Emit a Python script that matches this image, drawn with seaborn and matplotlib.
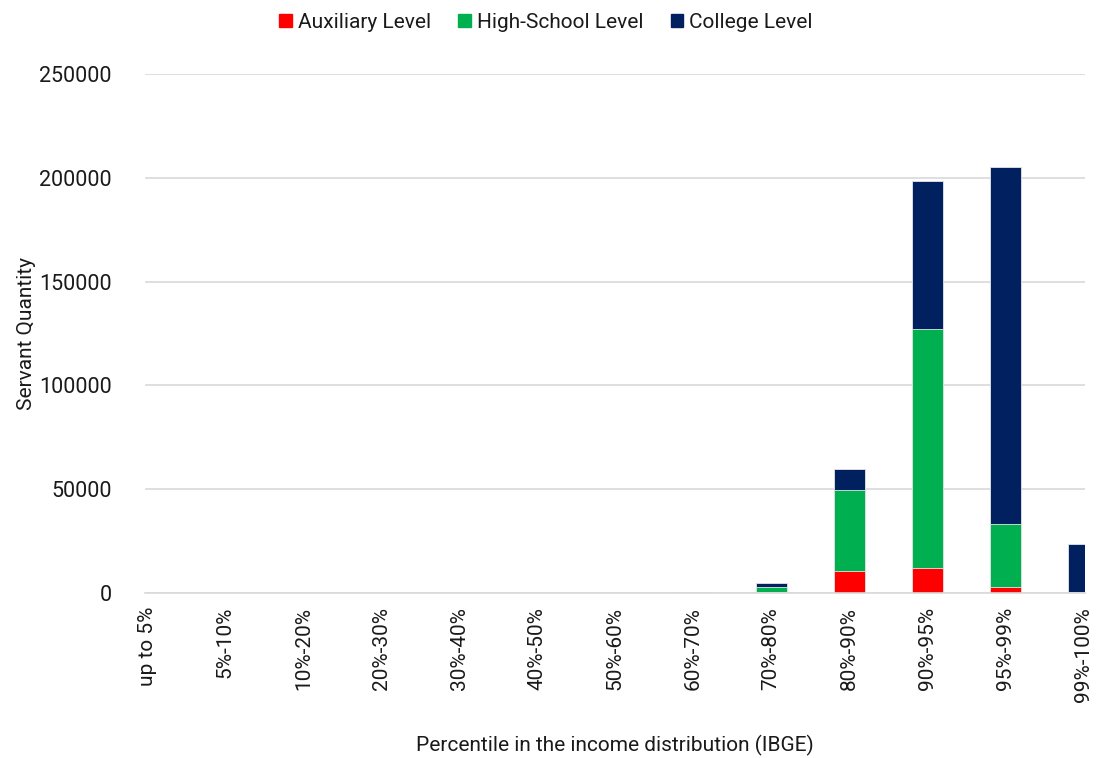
import numpy as np
import pandas as pd
import seaborn as sns
import matplotlib.pyplot as plt
from matplotlib.patches import Patch

sns.set_theme(style='white')
plt.rcParams['font.family'] = ['Liberation Sans Narrow', 'Roboto', 'DejaVu Sans']

percentiles = ['up to 5%', '5%-10%', '10%-20%', '20%-30%', '30%-40%', '40%-50%',
               '50%-60%', '60%-70%', '70%-80%', '80%-90%', '90%-95%', '95%-99%', '99%-100%']
auxiliary = [0, 0, 0, 0, 0, 0, 0, 100, 300, 10700, 12200, 2900, 0]
high_school = [0, 0, 0, 0, 0, 0, 0, 200, 2600, 38900, 115000, 30200, 300]
college = [0, 0, 0, 0, 0, 0, 0, 100, 1800, 10100, 71300, 172100, 23500]

colors = {'Auxiliary Level': '#FF0000', 'High-School Level': '#00B050', 'College Level': '#002060'}

df = pd.DataFrame({'pct': percentiles, 'aux': auxiliary, 'hs': high_school, 'col': college})
# cumulative tops so the stacks can be drawn back to front
df['top_col'] = df['aux'] + df['hs'] + df['col']
df['top_hs'] = df['aux'] + df['hs']
df['top_aux'] = df['aux']

fig = plt.figure(figsize=(10.99, 7.58), dpi=100)
ax = fig.add_axes([0.132, 0.2177, 0.855, 0.6847])

for col, name in [('top_col', 'College Level'), ('top_hs', 'High-School Level'), ('top_aux', 'Auxiliary Level')]:
    sns.barplot(data=df, x='pct', y=col, color=colors[name], width=0.4,
                edgecolor='#E6E6E6', linewidth=0.6, saturation=1, ax=ax)

ax.set_xlim(-0.03, 12.02)
ax.set_ylim(0, 250000)
ax.set_yticks(np.arange(0, 250001, 50000))
ax.yaxis.grid(True, color='#D9D9D9', linewidth=1.2)
ax.set_axisbelow(True)
for s in ['top', 'right', 'left']:
    ax.spines[s].set_visible(False)
ax.spines['bottom'].set_color('#D9D9D9')
ax.spines['bottom'].set_linewidth(1.2)
ax.tick_params(axis='y', labelsize=15.5, colors='#1a1a1a', length=0, pad=24)
ax.tick_params(axis='x', labelsize=15, colors='#1a1a1a', length=0, pad=10, rotation=90)
ax.set_ylabel('Servant Quantity', fontsize=15, color='#1a1a1a', labelpad=2)
ax.set_xlabel('Percentile in the income distribution (IBGE)', fontsize=15, color='#1a1a1a', labelpad=24)

handles = [Patch(color=colors[k]) for k in ['Auxiliary Level', 'High-School Level', 'College Level']]
fig.legend(handles, ['Auxiliary Level', 'High-School Level', 'College Level'],
           loc='upper center', bbox_to_anchor=(0.497, 1.008), ncol=3, frameon=False,
           fontsize=15, handlelength=0.6, handleheight=0.6, handletextpad=0.3,
           columnspacing=1.3, labelcolor='#1a1a1a')

fig.savefig('out.png', dpi=100)
